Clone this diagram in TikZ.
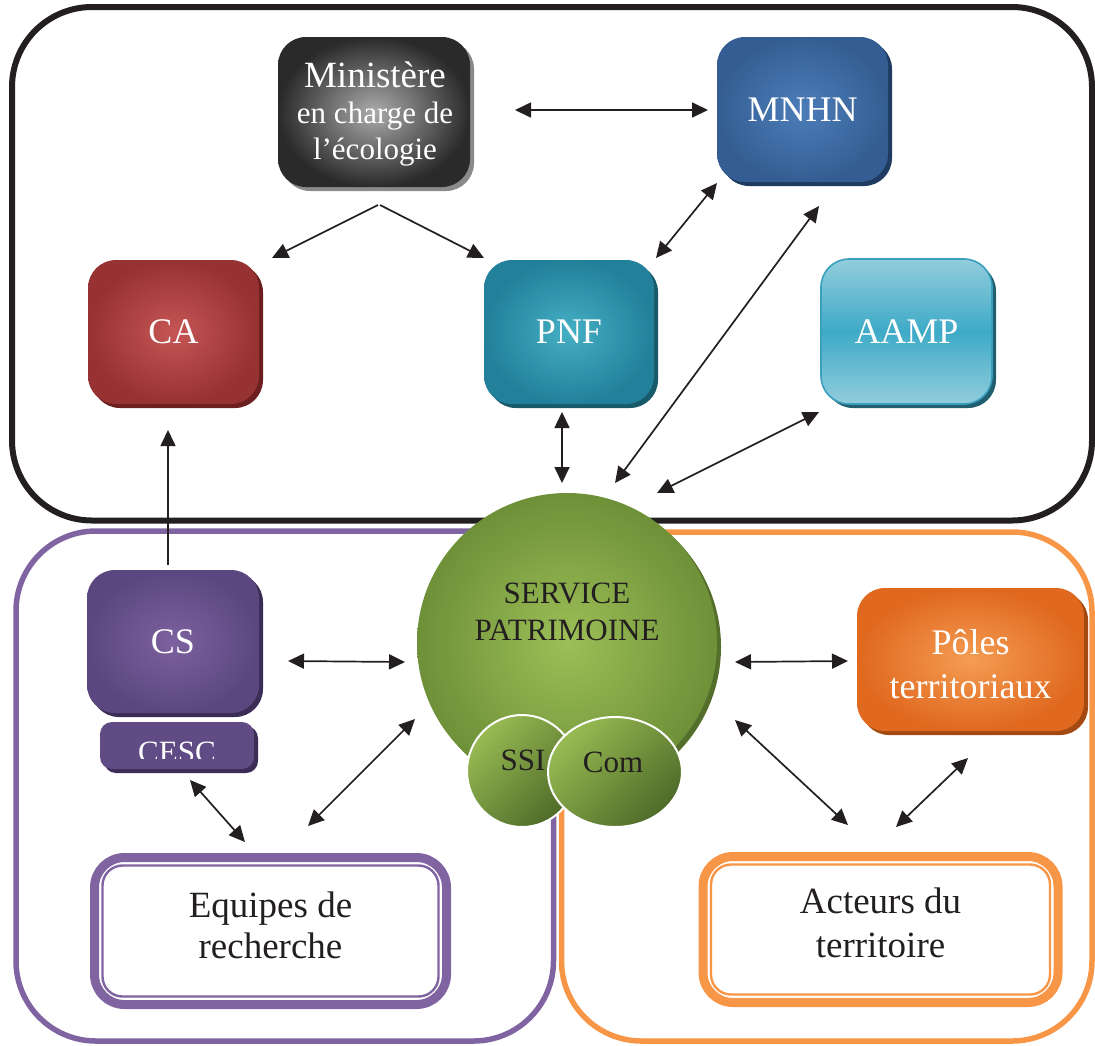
\documentclass[tikz,border=0pt]{standalone}
\usepackage{fontspec}
\setmainfont{Liberation Serif}
\usetikzlibrary{arrows.meta,shadows,shapes.geometric}
\definecolor{frameblack}{HTML}{231F20}
\definecolor{framepurple}{HTML}{8064A2}
\definecolor{frameorange}{HTML}{F79646}
\definecolor{minin}{HTML}{ABABAB}
\definecolor{minout}{HTML}{2A2A2A}
\definecolor{minsh}{HTML}{8A8A8A}
\definecolor{mnhnin}{HTML}{4C7DB9}
\definecolor{mnhnout}{HTML}{345E93}
\definecolor{mnhnsh}{HTML}{1F3C60}
\definecolor{cain}{HTML}{C65555}
\definecolor{caout}{HTML}{973232}
\definecolor{cash}{HTML}{6B1F1F}
\definecolor{pnfin}{HTML}{45AFC4}
\definecolor{pnfout}{HTML}{23809A}
\definecolor{pnfsh}{HTML}{185A6A}
\definecolor{aamptop}{HTML}{92CDDC}
\definecolor{aampmid}{HTML}{3EAAC7}
\definecolor{aampline}{HTML}{3A9FBD}
\definecolor{aampsh}{HTML}{215F70}
\definecolor{csin}{HTML}{7C619E}
\definecolor{csout}{HTML}{5B4780}
\definecolor{cssh}{HTML}{3B2D55}
\definecolor{polin}{HTML}{F49D52}
\definecolor{polout}{HTML}{E0681F}
\definecolor{polsh}{HTML}{A24A12}
\definecolor{spin}{HTML}{9CBF57}
\definecolor{spout}{HTML}{6E9038}
\definecolor{spsh}{HTML}{546F2B}
\definecolor{smlight}{HTML}{98BA52}
\definecolor{smdark}{HTML}{4F6B29}
\definecolor{txt}{HTML}{231F20}
\begin{document}
\begin{tikzpicture}[x=0.5pt,y=-0.5pt,
  box/.style={rectangle, rounded corners=14pt, inner sep=0pt, outer sep=0pt, text=white, align=center, font=\fontsize{18}{22}\selectfont},
  sh/.style={general shadow={fill=#1, shadow xshift=2pt, shadow yshift=-2pt}},
  rad/.style 2 args={shading=radial, inner color=#1, outer color=#2},
  conn/.style={line width=0.85pt, draw=frameblack},
  bi/.style={conn, {Triangle[length=8pt,width=7.5pt]}-{Triangle[length=8pt,width=7.5pt]}},
  uni/.style={conn, -{Triangle[length=8pt,width=7.5pt]}},
  frame/.style={rounded corners=40pt},
  small/.style={ellipse, inner sep=0pt, outer sep=0pt, draw=white, line width=1pt, top color=smlight, bottom color=smdark, shading angle=45},
  dark/.style={text=txt, align=center},
  light/.style={text=white, align=center},
  outbox/.style={rectangle, rounded corners=15pt, line width=4.5pt, fill=white, inner sep=0pt, outer sep=0pt}
]
\useasboundingbox (0,0) rectangle (1095,1045);
% frames
\draw[frameblack, line width=3pt, frame] (12,7) rectangle (1092,520.5);
\draw[framepurple, line width=2.75pt, frame] (16,531) rectangle (553.5,1041);
\draw[frameorange, line width=2.75pt, frame] (561.5,532) rectangle (1092,1041);
% top boxes
\node[box, minimum width=96pt, minimum height=75pt, rad={minin}{minout}, sh=minsh] (min) at (374,112) {};
\node[light, font=\fontsize{15.5}{18}\selectfont] (mintxt) at (375,114) {{\fontsize{18.5}{18}\selectfont Ministère}\\en charge de\\l’écologie};
\node[box, minimum width=85.5pt, minimum height=72.5pt, rad={mnhnin}{mnhnout}, sh=mnhnsh] (mnhn) at (802.5,109.5) {MNHN};
\node[box, minimum width=85.5pt, minimum height=72pt, rad={cain}{caout}, sh=cash] (ca) at (173.5,332) {CA};
\node[box, minimum width=85pt, minimum height=72pt, rad={pnfin}{pnfout}, sh=pnfsh] (pnf) at (569,332) {PNF};
\node[box, minimum width=85.5pt, minimum height=72.5pt, top color=aamptop, bottom color=aamptop, middle color=aampmid, draw=aampline, line width=0.8pt, sh=aampsh] (aamp) at (906.5,331.5) {AAMP};
% left
\node[box, minimum width=86pt, minimum height=71.5pt, rad={csin}{csout}, sh=cssh] (cs) at (173,641.5) {CS};
\node[box, rounded corners=6pt, minimum width=77pt, minimum height=23.5pt, fill=csout!85!csin, sh=cssh] (cesc) at (177,745.5) {};
\begin{scope}
  \clip (100,722) rectangle (254,758);
  \node[text=white, font=\fontsize{15.5}{18}\selectfont, anchor=base, inner sep=0pt] (cesct) at (177,762) {CESC};
\end{scope}
% right
\node[box, minimum width=113.5pt, minimum height=71.5pt, rad={polin}{polout}, sh=polsh] (pol) at (970.5,659.5) {};
\node[light, font=\fontsize{18}{22}\selectfont] (poltxt) at (970.5,664.5) {Pôles\\territoriaux};
% service patrimoine
\node[circle, minimum size=150pt, inner sep=0pt, outer sep=0pt, rad={spin}{spout}, sh=spsh] (sp) at (567,643) {};
\node[dark, font=\fontsize{15.5}{18.5}\selectfont] (sptxt) at (567,612) {SERVICE\\PATRIMOINE};
\node[small, minimum width=55pt, minimum height=56pt] (ssi) at (522,771) {};
\node[dark, font=\fontsize{15.5}{18}\selectfont] (ssit) at (523,760) {SSI};
\node[small, minimum width=67pt, minimum height=55pt] (com) at (615,772) {};
\node[dark, font=\fontsize{15.5}{18}\selectfont] (comt) at (613,762) {Com};
% bottom boxes
\node[outbox, draw=framepurple, minimum width=176pt, minimum height=73.5pt] (eq) at (270.5,931) {};
\draw[framepurple, line width=1.2pt, rounded corners=10pt] ([shift={(8,8)}]eq.north west) rectangle ([shift={(-8,-8)}]eq.south east);
\node[dark, font=\fontsize{18.5}{20.5}\selectfont] (eqt) at (270.5,925) {Equipes de\\recherche};
\node[outbox, draw=frameorange, minimum width=177.5pt, minimum height=73pt] (act) at (880.5,929.5) {};
\draw[frameorange, line width=1.2pt, rounded corners=10pt] ([shift={(8,8)}]act.north west) rectangle ([shift={(-8,-8)}]act.south east);
\node[dark, font=\fontsize{18.5}{22}\selectfont] (actt) at (880.5,923) {Acteurs du\\territoire};
% connectors
\draw[bi] ([shift={(45,-2)}]min.east) -- ([shift={(-9,0.5)}]mnhn.west);
\draw[uni] ([shift={(4,18)}]min.south) -- ([shift={(13,-2)}]ca.north east);
\draw[uni] ([shift={(6,18)}]min.south) -- ([shift={(0,-2)}]pnf.north west);
\draw[bi] ([shift={(0,1)}]mnhn.south west) -- ([shift={(2,-2)}]pnf.north east);
\draw[bi] ([shift={(16.5,24)}]mnhn.south) -- ([shift={(48,-10)}]sp.north);
\draw[bi] ([shift={(-7,8)}]pnf.south) -- ([shift={(-5,-10)}]sp.north);
\draw[bi] ([shift={(-2,8)}]aamp.south west) -- ([shift={(90,0)}]sp.north);
\draw[uni] ([shift={(-5,-5)}]cs.north) -- ([shift={(-5.5,26)}]ca.south);
\draw[bi] ([shift={(29,19.5)}]cs.east) -- ([shift={(-12,19)}]sp.west);
\draw[bi] ([shift={(13,11)}]cesc.south) -- ([shift={(-25.5,-15.5)}]eq.north);
\draw[bi] ([shift={(-2,76)}]sp.west) -- ([shift={(37.5,-31.5)}]eq.north);
\draw[bi] ([shift={(18,19)}]sp.east) -- ([shift={(-9,1.5)}]pol.west);
\draw[bi] ([shift={(18,77)}]sp.east) -- ([shift={(-32.5,-31.5)}]act.north);
\draw[bi] ([shift={(-2.5,27)}]pol.south) -- ([shift={(15.5,-29.5)}]act.north);
\end{tikzpicture}
\end{document}
